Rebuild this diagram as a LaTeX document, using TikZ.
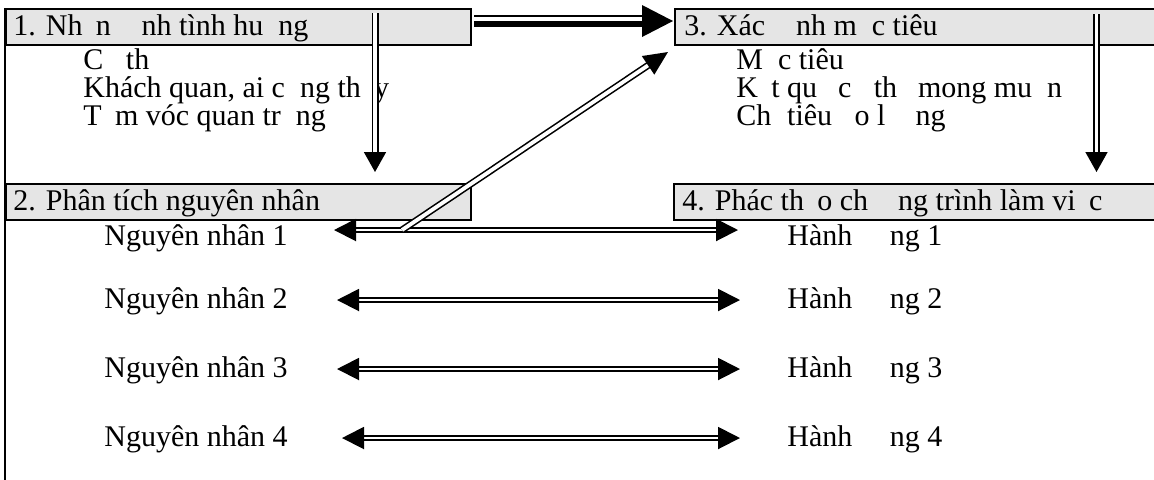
\documentclass[tikz,border=0pt]{standalone}
\usepackage{fontspec}
\setmainfont{Liberation Serif}
\usetikzlibrary{arrows.meta,calc}
\newcommand{\gap}[1]{\phantom{#1}}
\begin{document}
\begin{tikzpicture}[x=0.5pt,y=-0.5pt,
  hdr/.style={draw=black, line width=1pt, fill=gray!20, inner sep=0pt, anchor=north west, minimum height=17.75pt},
  txt/.style={inner sep=0pt, anchor=base west, font=\fontsize{15}{18}\selectfont},
  dbl/.style={draw=black, line width=0.8pt, double=white, double distance=1.9pt},
  rdbl/.style={draw=black, line width=0.95pt, double=white, double distance=1.4pt},
  vtip/.style={-{Triangle[length=10pt,width=11pt]}},
  rtip/.style={{Triangle[length=11pt,width=11pt]}-{Triangle[length=11pt,width=11pt]}}
]
\useasboundingbox (0,0) rectangle (1154,479);
% frame line
\draw[line width=1pt] (4.5,8) -- (4.5,482);
% headers
\node[hdr, minimum width=232.75pt] (h1) at (4.5,8) {};
\node[hdr, minimum width=232.75pt] (h2) at (4.5,183) {};
\node[hdr, minimum width=245pt] (h3) at (674,8) {};
\node[hdr, minimum width=245pt] (h4) at (673,183) {};
% header texts
\node[txt] (h1t) at (13,35) {1. Nh\gap{a}n \gap{di}nh tình hu\gap{o}ng};
\node[txt] (h2t) at (13,210) {2. Phân tích nguyên nhân};
\node[txt] (h3t) at (684,35) {3. Xác \gap{di}nh m\gap{u}c tiêu};
\node[txt] (h4t) at (682,210) {4. Phác th\gap{a}o ch\gap{uo}ng trình làm vi\gap{e}c};
% sub texts
\node[txt] (c1) at (83,69) {C\gap{u} th\gap{e}};
\node[txt] (c2) at (83,97) {Khách quan, ai c\gap{u}ng th\gap{a}y};
\node[txt] (c3) at (83,125) {T\gap{a}m vóc quan tr\gap{o}ng};
\node[txt] (g1) at (736,69) {M\gap{u}c tiêu};
\node[txt] (g2) at (736,97) {K\gap{e}t qu\gap{a} c\gap{u} th\gap{e} mong mu\gap{o}n};
\node[txt] (g3) at (736,125) {Ch\gap{i} tiêu \gap{d}o l\gap{uo}ng};
% rows
\foreach \i/\b in {1/245,2/308,3/377,4/446}{
  \node[txt] (n\i) at (104,\b) {Nguyên nhân \i};
  \node[txt] (a\i) at (787,\b) {Hành \gap{do}ng \i};
}
% row arrows
\coordinate (L1) at (334,230); \coordinate (R1) at (738,230);
\coordinate (L2) at (337,300); \coordinate (R2) at (740,300);
\coordinate (L3) at (337,369); \coordinate (R3) at (740,369);
\coordinate (L4) at (342,438); \coordinate (R4) at (740,438);
\foreach \i in {1,2,3,4}{\draw[rdbl,rtip] (L\i) -- (R\i);}
% vertical arrows
\coordinate (v1) at (375,13);
\coordinate (v3) at (1096.5,14);
\draw[dbl,vtip,shorten >=5.5pt] (v1) -- (v1 |- h2.north);
\draw[dbl,vtip,shorten >=5.5pt] (v3) -- (v3 |- h4.north);
% diagonal arrow
\coordinate (d0) at (402,230);
\coordinate (d1) at (668,52);
\draw[dbl,-{Triangle[length=12pt,width=11pt]}] (d0) -- (d1);
% top arrow h1 -> h3
\coordinate (t0) at (h1.east |- 0,21);
\coordinate (t1) at (h3.west |- 0,21);
\draw[line width=1.1pt] ([xshift=1pt,yshift=2.5pt]t0) -- ([xshift=-15pt,yshift=2.5pt]t1);
\draw[line width=3.3pt] ([xshift=1pt,yshift=-1.5pt]t0) -- ([xshift=-15pt,yshift=-1.5pt]t1);
\fill ([xshift=-0.5pt]t1) -- ++(-31,-16) -- ++(0,32) -- cycle;
\end{tikzpicture}
\end{document}
